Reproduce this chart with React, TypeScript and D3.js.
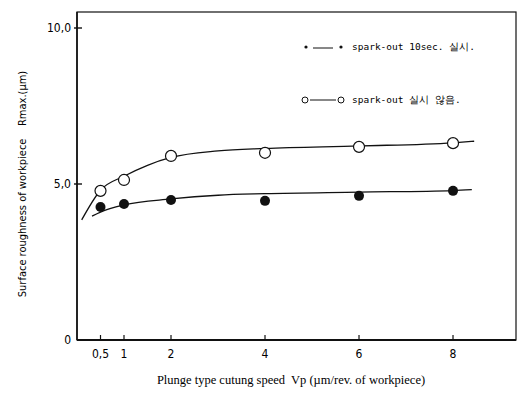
import { useEffect, useRef } from "react";
import * as d3 from "d3";

// speeds where measurements were taken (µm/rev. of workpiece)
const speeds = [0.5, 1, 2, 4, 6, 8];
// Rmax (µm) without spark-out
const noSparkOut = [4.78, 5.13, 5.9, 6.0, 6.19, 6.31];
// Rmax (µm) with 10 sec spark-out
const sparkOut10 = [4.26, 4.36, 4.49, 4.46, 4.62, 4.78];

// hand-drawn fitted curves
const fitOpenX = [0.1, 0.5, 1, 1.5, 2, 3, 4, 6, 8, 8.45];
const fitOpenY = [3.85, 4.8, 5.25, 5.6, 5.85, 6.06, 6.14, 6.22, 6.32, 6.37];
const fitFilledX = [0.32, 0.5, 1, 2, 3, 4, 6, 8, 8.4];
const fitFilledY = [3.97, 4.1, 4.33, 4.52, 4.64, 4.69, 4.74, 4.79, 4.82];

const xTicks = [0.5, 1, 2, 4, 6, 8];
const xTickLabels = ["0,5", "1", "2", "4", "6", "8"];
const yTicks = [0, 5, 10];
const yTickLabels = ["0", "5,0", "10,0"];

const W = 523;
const H = 395;
const tickFont = "'Liberation Sans Narrow', 'DejaVu Sans Condensed', sans-serif";

export default function App() {
  const svgRef = useRef<SVGSVGElement | null>(null);

  useEffect(() => {
    if (!svgRef.current) return;
    const svg = d3.select(svgRef.current);
    svg.selectAll("*").remove();

    const x = d3.scaleLinear().domain([0, 9.34]).range([77, 516]);
    const y = d3.scaleLinear().domain([0, 10]).range([340, 28]);
    const top = 12;

    // frame
    svg.append("rect")
      .attr("x", x(0)).attr("y", top)
      .attr("width", x(9.34) - x(0)).attr("height", y(0) - top)
      .attr("fill", "none").attr("stroke", "#111").attr("stroke-width", 1.2);
    svg.append("line")
      .attr("x1", x(0)).attr("x2", x(9.34)).attr("y1", y(0)).attr("y2", y(0))
      .attr("stroke", "#111").attr("stroke-width", 2);
    svg.append("line")
      .attr("x1", x(0)).attr("x2", x(0)).attr("y1", top).attr("y2", y(0))
      .attr("stroke", "#111").attr("stroke-width", 1.6);

    // x ticks
    const gx = svg.append("g");
    gx.selectAll("line").data(xTicks).join("line")
      .attr("x1", d => x(d)).attr("x2", d => x(d))
      .attr("y1", y(0)).attr("y2", y(0) - 5)
      .attr("stroke", "#111").attr("stroke-width", 1.2);
    gx.selectAll("text").data(xTicks).join("text")
      .attr("x", d => x(d)).attr("y", y(0) + 18)
      .attr("text-anchor", "middle")
      .attr("font-family", tickFont).attr("font-size", 12)
      .text((d, i) => xTickLabels[i]);

    // y ticks
    const gy = svg.append("g");
    gy.selectAll("line").data(yTicks.filter(d => d > 0)).join("line")
      .attr("x1", x(0) - 3).attr("x2", x(0) + 5)
      .attr("y1", d => y(d)).attr("y2", d => y(d))
      .attr("stroke", "#111").attr("stroke-width", 1.4);
    gy.selectAll("text").data(yTicks).join("text")
      .attr("x", x(0) - 6).attr("y", d => y(d) + 4)
      .attr("text-anchor", "end")
      .attr("font-family", tickFont).attr("font-size", 12)
      .text((d, i) => yTickLabels[i]);

    // fitted curves
    const line = d3.line<[number, number]>()
      .x(d => x(d[0])).y(d => y(d[1]))
      .curve(d3.curveMonotoneX);
    svg.append("path")
      .attr("d", line(fitOpenX.map((v, i) => [v, fitOpenY[i]]))!)
      .attr("fill", "none").attr("stroke", "#111").attr("stroke-width", 1.3);
    svg.append("path")
      .attr("d", line(fitFilledX.map((v, i) => [v, fitFilledY[i]]))!)
      .attr("fill", "none").attr("stroke", "#111").attr("stroke-width", 1.3);

    // points
    svg.append("g").selectAll("circle").data(speeds).join("circle")
      .attr("cx", d => x(d)).attr("cy", (d, i) => y(noSparkOut[i]))
      .attr("r", 5.5).attr("fill", "#fff").attr("stroke", "#111").attr("stroke-width", 1.2);
    svg.append("g").selectAll("circle").data(speeds).join("circle")
      .attr("cx", d => x(d)).attr("cy", (d, i) => y(sparkOut10[i]))
      .attr("r", 5).attr("fill", "#111");

    // legend
    const lg = svg.append("g").attr("font-family", "'DejaVu Sans Mono', monospace").attr("font-size", 9.5);
    lg.append("circle").attr("cx", 306).attr("cy", 47).attr("r", 1.6).attr("fill", "#111");
    lg.append("line").attr("x1", 313).attr("x2", 333).attr("y1", 48).attr("y2", 48).attr("stroke", "#111");
    lg.append("circle").attr("cx", 341).attr("cy", 47).attr("r", 1.6).attr("fill", "#111");
    lg.append("text").attr("x", 352).attr("y", 50).text("spark-out 10sec. 실시.");

    lg.append("circle").attr("cx", 305).attr("cy", 100).attr("r", 3).attr("fill", "#fff").attr("stroke", "#111");
    lg.append("line").attr("x1", 310).attr("x2", 336).attr("y1", 100).attr("y2", 100).attr("stroke", "#111");
    lg.append("circle").attr("cx", 341).attr("cy", 100).attr("r", 3).attr("fill", "#fff").attr("stroke", "#111");
    lg.append("text").attr("x", 352).attr("y", 103).text("spark-out 실시 않음.");

    // axis titles
    svg.append("text")
      .attr("x", 291).attr("y", 384).attr("text-anchor", "middle")
      .style("white-space", "pre")
      .attr("font-family", "'Liberation Serif', serif").attr("font-size", 12.5)
      .text("Plunge type cutung speed  Vp (µm/rev. of workpiece)");
    svg.append("text")
      .attr("transform", "translate(26,184) rotate(-90)")
      .attr("text-anchor", "middle")
      .style("white-space", "pre")
      .attr("font-family", tickFont).attr("font-size", 11)
      .text("Surface roughness of workpiece    Rmax.(µm)");
  }, []);

  return (
    <svg ref={svgRef} width={W} height={H}
      style={{ position: "absolute", left: 0, top: 0, background: "#fff" }} />
  );
}
